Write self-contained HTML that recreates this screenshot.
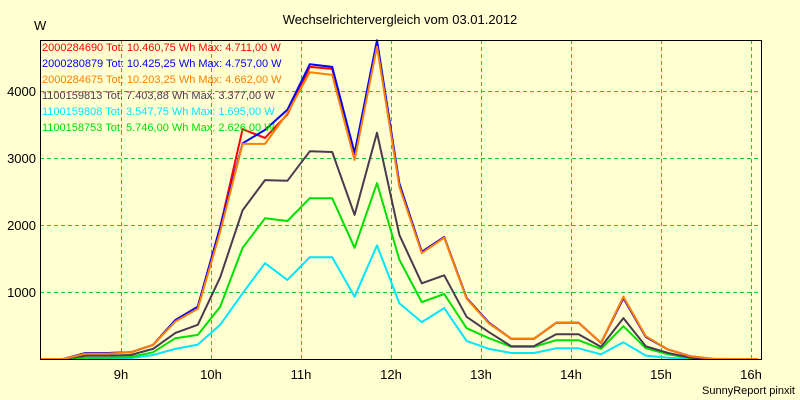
<!DOCTYPE html>
<html><head><meta charset="utf-8"><style>
body{margin:0;background:#ffffd2;}
svg{display:block;font-family:"Liberation Sans",sans-serif;}
</style></head><body>
<svg id="s" width="800" height="400" xmlns="http://www.w3.org/2000/svg">
<defs>
<pattern id="vd" x="0" y="40" width="1" height="7" patternUnits="userSpaceOnUse"><rect width="1" height="4" fill="#22cc22"/></pattern>
<pattern id="hd" x="40" y="0" width="7" height="1" patternUnits="userSpaceOnUse"><rect width="4" height="1" fill="#22cc22"/></pattern>
</defs>
<rect width="800" height="400" fill="#ffffd2"/>
<text x="400" y="24" font-size="13" text-anchor="middle">Wechselrichtervergleich vom 03.01.2012</text>
<text x="34" y="30" font-size="13">W</text>
<g fill="url(#hd)">
<rect x="40" y="91" width="722" height="1"/><rect x="40" y="158" width="722" height="1"/>
<rect x="40" y="225" width="722" height="1"/><rect x="40" y="292" width="722" height="1"/>
</g>
<g fill="url(#vd)">
<rect x="121" y="40" width="1" height="319"/><rect x="211" y="40" width="1" height="319"/>
<rect x="301" y="40" width="1" height="319"/><rect x="391" y="40" width="1" height="319"/>
<rect x="481" y="40" width="1" height="319"/><rect x="571" y="40" width="1" height="319"/>
<rect x="661" y="40" width="1" height="319"/><rect x="751" y="40" width="1" height="319"/>
</g>
<g font-size="13" text-anchor="end">
<text x="36" y="96">4000</text><text x="36" y="163">3000</text><text x="36" y="230">2000</text><text x="36" y="297">1000</text>
</g>
<g font-size="13" text-anchor="middle">
<text x="121" y="379">9h</text><text x="211" y="379">10h</text><text x="301" y="379">11h</text><text x="391" y="379">12h</text>
<text x="481" y="379">13h</text><text x="571" y="379">14h</text><text x="661" y="379">15h</text><text x="751" y="379">16h</text>
</g>
<text x="795" y="394" font-size="11" text-anchor="end">SunnyReport pinxit</text>
<g id="lines" fill="none" stroke-width="2" stroke-linejoin="round"></g>
<rect x="40.5" y="40.5" width="721" height="319" fill="none" stroke="#000" stroke-width="1"/>
<g font-size="11">
<text x="42" y="51" fill="#ff0000">2000284690 Tot: 10.460,75 Wh Max: 4.711,00 W</text>
<text x="42" y="67" fill="#0000ff">2000280879 Tot: 10.425,25 Wh Max: 4.757,00 W</text>
<text x="42" y="83" fill="#ff8000">2000284675 Tot: 10.203,25 Wh Max: 4.662,00 W</text>
<text x="42" y="99" fill="#4a3a50">1100159813 Tot: 7.403,88 Wh Max: 3.377,00 W</text>
<text x="42" y="115" fill="#00e6ff">1100159808 Tot: 3.547,75 Wh Max: 1.695,00 W</text>
<text x="42" y="131" fill="#00e000">1100158753 Tot: 5.746,00 Wh Max: 2.626,00 W</text>
</g>
</svg>
<script>
var S={
cyan:["#00e6ff",[0,0,0,0,10,60,150,215,510,980,1430,1180,1520,1520,930,1695,830,550,760,270,150,90,90,160,160,70,250,50,20,0,0,0,0]],
green:["#00e000",[0,0,20,20,30,100,310,360,780,1660,2100,2060,2400,2400,1660,2626,1480,850,970,460,310,180,180,280,280,150,490,160,70,10,0,0,0]],
dark:["#4a3a50",[0,0,50,50,60,150,390,510,1220,2220,2670,2660,3100,3090,2150,3377,1850,1130,1250,630,400,190,190,370,370,180,610,190,90,20,0,0,0]],
red:["#ff0000",[0,0,90,90,100,210,580,780,1970,3430,3300,3650,4360,4330,3000,4711,2600,1600,1820,910,540,300,300,540,540,240,910,330,140,40,0,0,0]],
blue:["#0000ff",[0,0,90,90,100,210,580,780,1970,3220,3420,3720,4400,4360,3075,4757,2620,1600,1820,910,540,300,300,540,540,240,910,330,140,40,0,0,0]],
orange:["#ff8000",[0,0,80,80,100,210,560,750,1900,3210,3210,3670,4280,4240,2970,4662,2570,1580,1810,900,530,300,300,540,540,240,930,340,140,40,5,0,0]]
};
var g=document.getElementById("lines");
for(var k in S){var c=S[k],p=[];c[1].forEach(function(v,i){p.push((41+22.4*i).toFixed(1)+","+(359-v*0.067).toFixed(1));});
var e=document.createElementNS("http://www.w3.org/2000/svg","polyline");e.setAttribute("points",p.join(" "));e.setAttribute("stroke",c[0]);g.appendChild(e);}
</script>
</body></html>
